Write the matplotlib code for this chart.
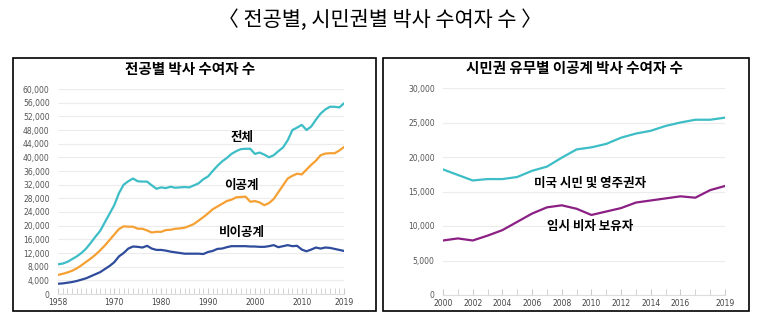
import matplotlib
matplotlib.use("Agg")
import matplotlib.pyplot as plt
from matplotlib.patches import Rectangle
from matplotlib.ticker import FuncFormatter

plt.rcParams['font.family'] = ['Noto Sans CJK KR', 'DejaVu Sans']

    # data: PhD recipients by field (thousands)

years_a = list(range(1958, 2020))
total = [8.7, 8.9, 9.4, 10.2, 11.0, 12.0, 13.3, 15.0, 16.8, 18.5,
         21.0, 23.5, 26.0, 29.5, 32.0, 33.0, 33.8, 33.0, 32.9, 32.9,
         31.8, 30.8, 31.2, 31.0, 31.4, 31.1, 31.2, 31.3, 31.2, 31.8,
         32.4, 33.6, 34.4, 36.0, 37.5, 38.8, 39.8, 41.0, 41.8, 42.4,
         42.5, 42.5, 41.0, 41.4, 40.8, 40.0, 40.6, 41.8, 42.9, 45.0,
         48.0, 48.7, 49.5, 48.0, 49.0, 51.0, 52.8, 54.0, 54.8, 54.8,
         54.6, 55.8]
sci_eng = [5.6, 5.9, 6.3, 6.8, 7.5, 8.4, 9.4, 10.4, 11.5, 12.8,
           14.2, 15.8, 17.4, 19.0, 19.8, 19.7, 19.7, 19.1, 19.1, 18.6,
           18.0, 18.2, 18.2, 18.7, 18.8, 19.1, 19.2, 19.4, 19.9, 20.5,
           21.5, 22.5, 23.6, 24.8, 25.6, 26.4, 27.2, 27.6, 28.3, 28.4,
           28.5, 27.0, 27.2, 26.8, 26.0, 26.6, 27.8, 29.8, 31.8, 33.8,
           34.6, 35.2, 35.0, 36.4, 37.8, 39.0, 40.6, 41.1, 41.2, 41.2,
           42.0, 43.0]
non_se = [3.0, 3.1, 3.3, 3.5, 3.8, 4.2, 4.6, 5.2, 5.8, 6.4,
          7.3, 8.2, 9.3, 11.0, 12.0, 13.3, 13.9, 13.8, 13.6, 14.1,
          13.3, 12.9, 12.9, 12.7, 12.4, 12.2, 12.0, 11.8, 11.8, 11.8,
          11.8, 11.7, 12.3, 12.6, 13.2, 13.3, 13.7, 14.0, 14.0, 14.0,
          14.0, 13.9, 13.9, 13.8, 13.8, 14.0, 14.3, 13.7, 14.0, 14.3,
          14.0, 14.1, 13.0, 12.5, 13.0, 13.6, 13.3, 13.6, 13.5, 13.2,
          12.9, 12.6]

    # data: S&E PhD recipients by citizenship (thousands)

years_b = list(range(2000, 2020))
citizen = [18.2, 17.4, 16.6, 16.8, 16.8, 17.1, 18.0, 18.6, 19.9, 21.1,
           21.4, 21.9, 22.8, 23.4, 23.8, 24.5, 25.0, 25.4, 25.4, 25.7]
temp_visa = [7.9, 8.2, 7.9, 8.6, 9.4, 10.6, 11.8, 12.7, 13.0, 12.5,
             11.6, 12.1, 12.6, 13.4, 13.7, 14.0, 14.3, 14.1, 15.2, 15.8]

ticks_a = [1958, 1970, 1980, 1990, 2000, 2010, 2019]
ticks_b = [2000, 2002, 2004, 2006, 2008, 2010, 2012, 2014, 2016, 2019]

teal = '#3dbdc6'
orange = '#f5a033'
navy = '#2f4c9c'
purple = '#8b1f84'

fig = plt.figure(figsize=(7.61, 3.23), dpi=100)
W, H = 761, 323

def fx(px):
    return px / W

def fy(py):
    return 1 - py / H

fig.text(fx(380), fy(20), '〈 전공별, 시민권별 박사 수여자 수 〉',
         ha='center', va='center', fontsize=15)

# panel frames
for x0, x1 in [(13, 376), (383, 749)]:
    fig.add_artist(Rectangle((fx(x0), fy(311)), fx(x1) - fx(x0), fy(58) - fy(311),
                             transform=fig.transFigure, fill=False,
                             edgecolor='black', linewidth=1.2))

thousands = FuncFormatter(lambda v, p: '{:,.0f}'.format(v * 1000))

def style(ax):
    for s in ['top', 'right', 'left']:
        ax.spines[s].set_visible(False)
    ax.spines['bottom'].set_color('#dddddd')
    ax.grid(axis='y', color='#ececec', linewidth=0.8)
    ax.set_axisbelow(True)
    ax.yaxis.set_major_formatter(thousands)
    ax.tick_params(axis='y', length=0, labelsize=5.5, labelcolor='#555555', pad=6)
    ax.tick_params(axis='x', which='both', direction='in', color='#cccccc',
                   labelsize=5.5, labelcolor='#444444', length=4, pad=3)
    for lab in ax.get_xticklabels() + ax.get_yticklabels():
        lab.set_family(['DejaVu Sans'])

# left panel
ax1 = fig.add_axes([fx(58), fy(294), fx(344) - fx(58), fy(89) - fy(294)])
ax1.plot(years_a, total, color=teal, lw=1.6)
ax1.plot(years_a, sci_eng, color=orange, lw=1.6)
ax1.plot(years_a, non_se, color=navy, lw=1.6)
ax1.set_xlim(1958, 2019)
ax1.set_ylim(0, 60)
ax1.set_yticks(range(0, 61, 4))
ax1.set_xticks(ticks_a)
ax1.set_xticks(years_a, minor=True)
style(ax1)
ax1.text(1997.2, 45.9, '전체', ha='center', va='center', fontsize=9, fontweight='bold')
ax1.text(1997.2, 31.9, '이공계', ha='center', va='center', fontsize=9, fontweight='bold')
ax1.text(1997.2, 17.9, '비이공계', ha='center', va='center', fontsize=9, fontweight='bold')
fig.text(fx(190), fy(69), '전공별 박사 수여자 수', ha='center', va='center',
         fontsize=10.5, fontweight='bold')

# right panel
ax2 = fig.add_axes([fx(443), fy(295), fx(725) - fx(443), fy(88) - fy(295)])
ax2.plot(years_b, citizen, color=teal, lw=1.6)
ax2.plot(years_b, temp_visa, color=purple, lw=1.6)
ax2.set_xlim(2000, 2019)
ax2.set_ylim(0, 30)
ax2.set_yticks(range(0, 31, 5))
ax2.set_xticks(ticks_b)
ax2.set_xticks(years_b, minor=True)
style(ax2)
ax2.text(2009.9, 16.2, '미국 시민 및 영주권자', ha='center', va='center',
         fontsize=9, fontweight='bold')
ax2.text(2009.9, 9.9, '임시 비자 보유자', ha='center', va='center',
         fontsize=9, fontweight='bold')
fig.text(fx(574), fy(68), '시민권 유무별 이공계 박사 수여자 수', ha='center', va='center',
         fontsize=10.5, fontweight='bold')

fig.savefig('out.png', dpi=100)
